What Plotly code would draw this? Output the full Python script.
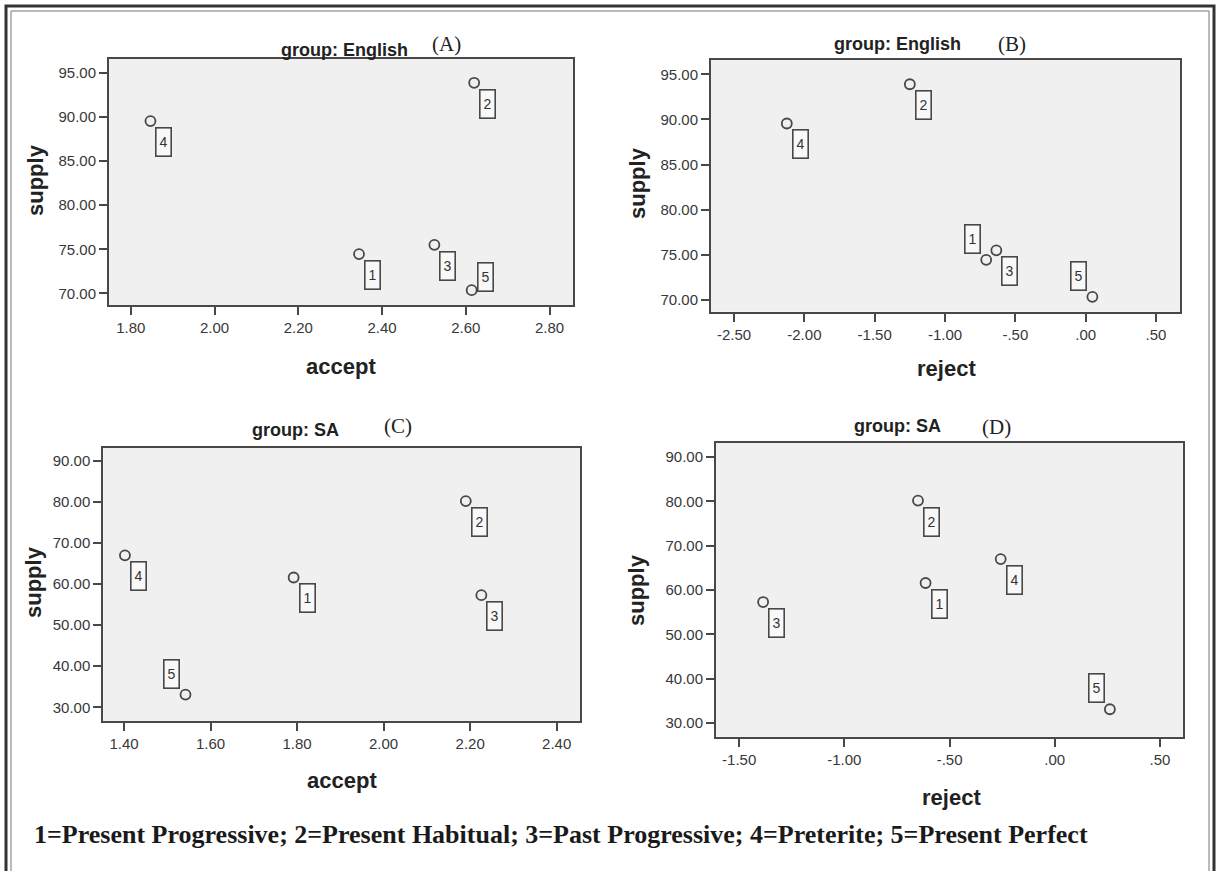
import plotly.graph_objects as go

# Tense/aspect categories (identifiers shown in the point labels)
point_ids = ["1", "2", "3", "4", "5"]

# English group
english_supply = [74.45, 93.9, 75.5, 89.55, 70.35]
english_accept = [2.345, 2.62, 2.525, 1.847, 2.614]
english_reject = [-0.707, -1.25, -0.635, -2.125, 0.048]

# SA group
sa_supply = [61.6, 80.2, 57.3, 67.0, 33.1]
sa_accept = [1.792, 2.19, 2.226, 1.402, 1.542]
sa_reject = [-0.614, -0.65, -1.386, -0.257, 0.262]

# Tick labels
ticks_accept_en = [1.8, 2.0, 2.2, 2.4, 2.6, 2.8]
ticks_reject_en = [-2.5, -2.0, -1.5, -1.0, -0.5, 0.0, 0.5]
ticks_supply_en = [70, 75, 80, 85, 90, 95]
ticks_accept_sa = [1.4, 1.6, 1.8, 2.0, 2.2, 2.4]
ticks_reject_sa = [-1.5, -1.0, -0.5, 0.0, 0.5]
ticks_supply_sa = [30, 40, 50, 60, 70, 80, 90]

legend_text = ("1=Present Progressive; 2=Present Habitual; 3=Past Progressive; "
               "4=Preterite; 5=Present Perfect")

W, H = 1218, 871


def fx(px):
    return px / W


def fy(py):
    return 1 - py / H


def spss_fmt(v):
    s = f"{v:.2f}"
    if s.startswith("0."):
        s = s[1:]
    elif s.startswith("-0."):
        s = "-" + s[2:]
    return s


INK = "#484848"
TICK_FONT = dict(family="Liberation Sans, Arial", size=15, color="#383838")

# panel: (x data, y data, x ticks, y ticks, x range, y range, box px, label corner per point)
panels = [
    (english_accept, english_supply, ticks_accept_en, ticks_supply_en,
     [1.748, 2.856], [68.67, 96.6], (109, 59, 573, 305),
     ["br", "br", "br", "br", "tr"]),
    (english_reject, english_supply, ticks_reject_en, ticks_supply_en,
     [-2.664, 0.671], [68.7, 96.64], (711, 59.5, 1180, 311.7),
     ["tl", "br", "br", "br", "tl"]),
    (sa_accept, sa_supply, ticks_accept_sa, ticks_supply_sa,
     [1.352, 2.454], [26.66, 93.2], (103.3, 447.7, 580, 721),
     ["br", "br", "br", "br", "tl"]),
    (sa_reject, sa_supply, ticks_reject_sa, ticks_supply_sa,
     [-1.61, 0.608], [26.9, 93.2], (716, 443, 1182.7, 736.7),
     ["br", "br", "br", "br", "tl"]),
]

LABEL_POS = {
    "br": dict(xanchor="left", yanchor="top", xshift=5, yshift=-6),
    "tl": dict(xanchor="right", yanchor="bottom", xshift=-5, yshift=6),
    "tr": dict(xanchor="left", yanchor="bottom", xshift=5, yshift=-2),
}

fig = go.Figure()
annotations = []
layout_axes = {}

for i, (xs, ys, xt, yt, xr, yr, box, corners) in enumerate(panels):
    n = "" if i == 0 else str(i + 1)
    xa, ya = "x" + n, "y" + n
    x0, y0, x1, y1 = box
    fig.add_trace(go.Scatter(
        x=xs, y=ys, mode="markers", xaxis=xa, yaxis=ya,
        marker=dict(symbol="circle-open", size=10, color=INK,
                    line=dict(width=1.8, color=INK)),
        showlegend=False, hoverinfo="x+y",
    ))
    common = dict(showline=True, linecolor=INK, linewidth=2, mirror=True,
                  ticks="outside", ticklen=8, tickwidth=2, tickcolor=INK,
                  showgrid=False, zeroline=False, tickfont=TICK_FONT)
    layout_axes["xaxis" + n] = dict(
        domain=[fx(x0), fx(x1)], range=xr, anchor=ya,
        tickvals=xt, ticktext=[spss_fmt(v) for v in xt], **common)
    layout_axes["yaxis" + n] = dict(
        domain=[fy(y1), fy(y0)], range=yr, anchor=xa,
        tickvals=yt, ticktext=[spss_fmt(v) for v in yt], **common)

    for pid, px_, py_, c in zip(point_ids, xs, ys, corners):
        annotations.append(dict(
            x=px_, y=py_, xref=xa, yref=ya, text=pid, showarrow=False,
            font=dict(family="Liberation Sans, Arial", size=14, color="#333"),
            bordercolor=INK, borderwidth=1.6, borderpad=1,
            bgcolor="#f8f8f8", width=12, height=25, align="center",
            valign="middle", **LABEL_POS[c]))


def text_at(x, y, txt, size, family="Liberation Sans, Arial", bold=True,
            angle=0, xanchor="center", color="#222"):
    annotations.append(dict(
        x=fx(x), y=fy(y), xref="paper", yref="paper",
        text=f"<b>{txt}</b>" if bold else txt, showarrow=False,
        font=dict(family=family, size=size, color=color),
        textangle=angle, xanchor=xanchor, yanchor="middle"))


SERIF = "Liberation Serif, Times New Roman"

# Panel titles and tags
text_at(344, 50, "group: English", 18)
text_at(446, 44, "(A)", 21, family=SERIF, bold=False)
text_at(897, 44, "group: English", 18)
text_at(1012, 44, "(B)", 21, family=SERIF, bold=False)
text_at(295, 430, "group: SA", 18)
text_at(398, 426, "(C)", 21, family=SERIF, bold=False)
text_at(897, 426, "group: SA", 18)
text_at(996, 427, "(D)", 21, family=SERIF, bold=False)

# Axis titles
text_at(36, 180, "supply", 22, angle=-90)
text_at(341, 367, "accept", 22)
text_at(637, 183, "supply", 22, angle=-90)
text_at(946, 368, "reject", 22)
text_at(33, 582, "supply", 22, angle=-90)
text_at(342, 780, "accept", 22)
text_at(636, 590, "supply", 22, angle=-90)
text_at(951, 797, "reject", 22)

# Key for the point labels
text_at(32, 834, legend_text, 26, family=SERIF, xanchor="left", color="#1a1a1a")

# Outer frame around the whole figure
shapes = [
    dict(type="rect", xref="paper", yref="paper", x0=fx(6), x1=fx(1214),
         y0=fy(880), y1=fy(6), line=dict(color="#333", width=3)),
    dict(type="rect", xref="paper", yref="paper", x0=fx(11), x1=fx(1209),
         y0=fy(880), y1=fy(11), line=dict(color="#777", width=1)),
]

fig.update_layout(
    width=W, height=H, margin=dict(l=0, r=0, t=0, b=0),
    paper_bgcolor="white", plot_bgcolor="#f0f0f0",
    annotations=annotations, shapes=shapes, **layout_axes,
)

fig.write_html("out.html")
